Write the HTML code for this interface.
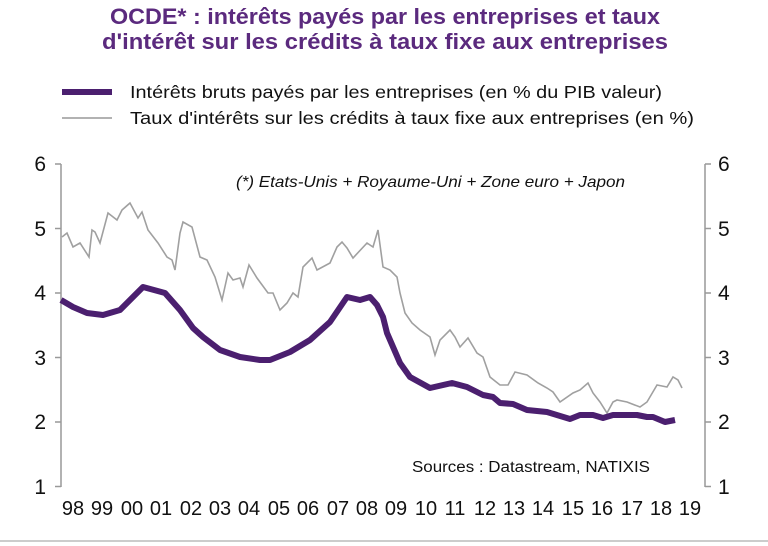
<!DOCTYPE html>
<html><head><meta charset="utf-8"><style>
body{margin:0;background:#fff;}
svg{display:block;font-family:"Liberation Sans",sans-serif;}
</style></head><body>
<svg width="768" height="546" viewBox="0 0 768 546">
<text x="110" y="24" textLength="550" lengthAdjust="spacingAndGlyphs" font-size="22" font-weight="bold" fill="#5b2a7e">OCDE* : intérêts payés par les entreprises et taux</text>
<text x="102" y="49" textLength="566" lengthAdjust="spacingAndGlyphs" font-size="22" font-weight="bold" fill="#5b2a7e">d'intérêt sur les crédits à taux fixe aux entreprises</text>
<line x1="62" y1="92" x2="112" y2="92" stroke="#4b1f6f" stroke-width="6"/>
<text x="130" y="98" textLength="532" lengthAdjust="spacingAndGlyphs" font-size="17.5" fill="#111">Intérêts bruts payés par les entreprises (en % du PIB valeur)</text>
<line x1="62" y1="118" x2="112" y2="118" stroke="#999" stroke-width="1.5"/>
<text x="130" y="124" textLength="564" lengthAdjust="spacingAndGlyphs" font-size="17.5" fill="#111">Taux d'intérêts sur les crédits à taux fixe aux entreprises (en %)</text>
<g stroke="#999" stroke-width="1.5">
<line x1="61" y1="164" x2="61" y2="487"/><line x1="705" y1="164" x2="705" y2="487"/>
<line x1="55" y1="164" x2="61" y2="164"/><line x1="55" y1="228.5" x2="61" y2="228.5"/><line x1="55" y1="293" x2="61" y2="293"/><line x1="55" y1="357.5" x2="61" y2="357.5"/><line x1="55" y1="422" x2="61" y2="422"/><line x1="55" y1="486.5" x2="61" y2="486.5"/>
<line x1="705" y1="164" x2="711" y2="164"/><line x1="705" y1="228.5" x2="711" y2="228.5"/><line x1="705" y1="293" x2="711" y2="293"/><line x1="705" y1="357.5" x2="711" y2="357.5"/><line x1="705" y1="422" x2="711" y2="422"/><line x1="705" y1="486.5" x2="711" y2="486.5"/>
</g>
<g font-size="21" fill="#111" text-anchor="end">
<text x="46" y="171">6</text><text x="46" y="236">5</text><text x="46" y="300">4</text><text x="46" y="365">3</text><text x="46" y="429">2</text><text x="46" y="494">1</text>
</g>
<g font-size="21" fill="#111">
<text x="718" y="171">6</text><text x="718" y="236">5</text><text x="718" y="300">4</text><text x="718" y="365">3</text><text x="718" y="429">2</text><text x="718" y="494">1</text>
</g>
<text x="236" y="187" textLength="389" lengthAdjust="spacingAndGlyphs" font-size="16" font-style="italic" fill="#111">(*) Etats-Unis + Royaume-Uni  + Zone euro + Japon</text>
<text x="412" y="472" textLength="238" lengthAdjust="spacingAndGlyphs" font-size="15.5" fill="#111">Sources : Datastream, NATIXIS</text>
<polyline fill="none" stroke="#a0a0a0" stroke-width="1.6" points="62,237 67,233 73,247 80,243 89,257 92,230 95,232 100,243 108,213 117,220 122,210 130,203 138,218 142,212 148,230 158,243 167,257 172,260 175,270 180,233 183,222 192,227 200,257 207,260 215,277 222,300 228,273 233,280 240,278 243,287 249,265 257,278 268,293 273,293 280,310 287,303 293,293 298,297 303,267 312,258 317,270 330,263 337,247 342,242 347,248 353,258 367,243 373,247 378,230 383,267 390,270 397,277 400,293 405,313 412,323 420,330 430,337 435,355 440,340 450,330 455,337 460,347 468,338 477,353 483,357 490,377 500,385 508,385 515,372 527,375 538,383 547,388 553,392 560,402 573,393 580,390 588,383 593,393 600,402 607,413 613,402 617,400 627,402 640,407 647,402 657,385 667,387 673,377 678,380 682,388"/>
<polyline fill="none" stroke="#4b1f6f" stroke-width="6" stroke-linejoin="round" points="61,300 73,307 87,313 103,315 120,310 143,287 165,293 180,310 193,328 203,337 220,350 240,357 260,360 270,360 290,352 310,340 330,322 347,297 360,300 370,297 377,305 383,317 387,333 400,363 410,377 430,388 452,383 467,387 483,395 493,397 500,403 513,404 527,410 547,412 570,419 580,415 593,415 603,418 613,415 637,415 647,417 653,417 665,422 675,420"/>
<g font-size="20" fill="#111" text-anchor="middle">
<text x="73" y="515">98</text><text x="102" y="515">99</text><text x="132" y="515">00</text><text x="161" y="515">01</text><text x="191" y="515">02</text><text x="220" y="515">03</text><text x="249" y="515">04</text><text x="279" y="515">05</text><text x="308" y="515">06</text><text x="338" y="515">07</text><text x="367" y="515">08</text><text x="396" y="515">09</text><text x="426" y="515">10</text><text x="455" y="515">11</text><text x="485" y="515">12</text><text x="514" y="515">13</text><text x="543" y="515">14</text><text x="573" y="515">15</text><text x="602" y="515">16</text><text x="632" y="515">17</text><text x="661" y="515">18</text><text x="690" y="515">19</text>
</g>
<line x1="0" y1="541" x2="768" y2="541" stroke="#bbb" stroke-width="1.5"/>
</svg>
</body></html>
